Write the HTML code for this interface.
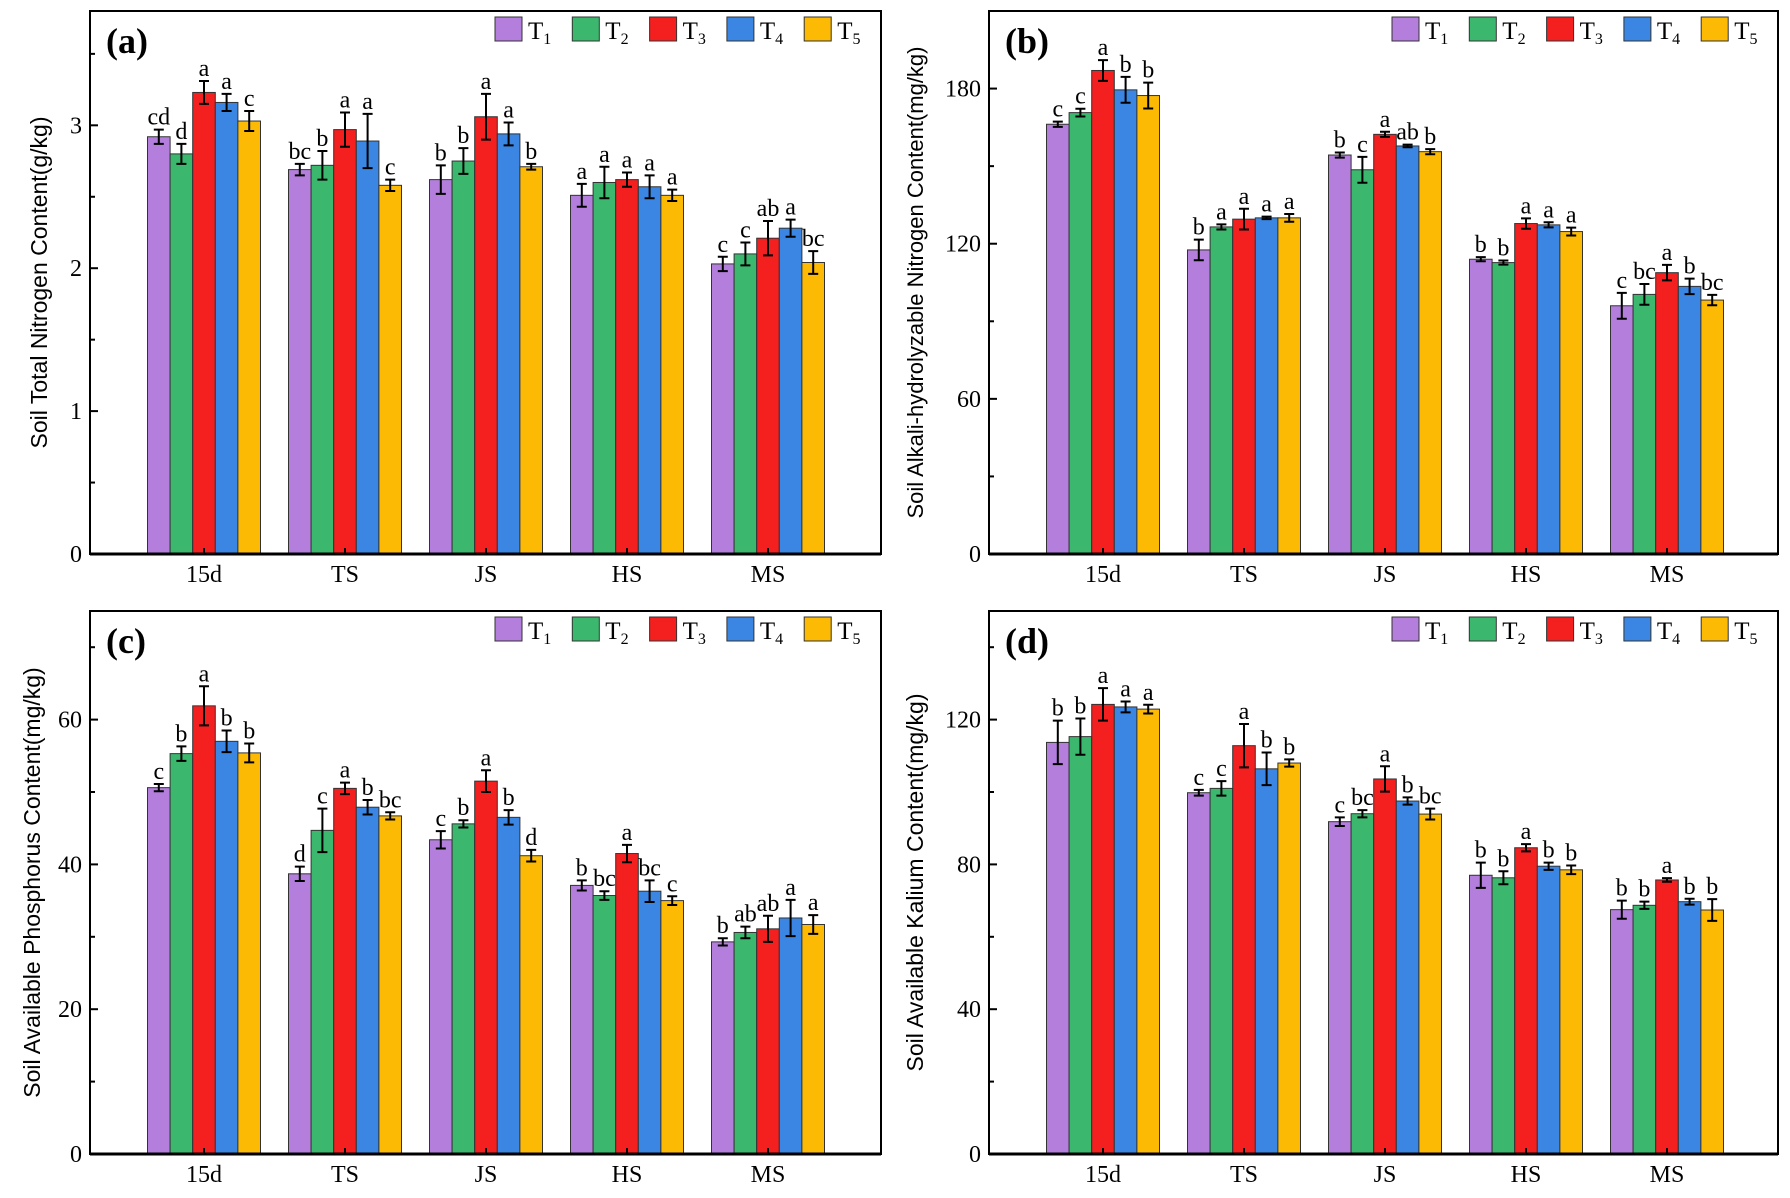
<!DOCTYPE html>
<html><head><meta charset="utf-8"><style>
html,body{margin:0;padding:0;background:#fff;}
svg{display:block;}
</style></head><body>
<svg id="fig" width="1790" height="1198" viewBox="0 0 1790 1198" xmlns="http://www.w3.org/2000/svg"></svg>
<script>
const categories = ["15d","TS","JS","HS","MS"];
const seriesNames = ["1","2","3","4","5"];
const colors = ["#b47fdc","#3cb86e","#f41f1f","#3a86e2","#fcba05"];

const aValues = [[2.92,2.69,2.62,2.51,2.03],[2.80,2.72,2.75,2.60,2.10],[3.23,2.97,3.06,2.62,2.21],[3.16,2.89,2.94,2.57,2.28],[3.03,2.58,2.71,2.51,2.04]];
const aErrors = [[0.05,0.04,0.10,0.08,0.05],[0.07,0.10,0.09,0.11,0.08],[0.08,0.12,0.16,0.05,0.12],[0.06,0.19,0.08,0.08,0.06],[0.07,0.04,0.02,0.04,0.08]];
const aLetters = [["cd","bc","b","a","c"],["d","b","b","a","c"],["a","a","a","a","ab"],["a","a","a","a","a"],["c","c","b","a","bc"]];
const aTicks = [0,1,2,3];

const bValues = [[166.2,117.6,154.3,114.0,96.0],[170.7,126.5,148.6,112.7,100.4],[187.0,129.5,162.3,127.8,108.8],[179.5,130.0,157.8,127.3,103.5],[177.3,130.0,155.6,124.7,98.2]];
const bErrors = [[1,4,1,0.8,5],[1.5,1,5,0.8,4],[4,4,1,2,3],[5,0.5,0.5,1,3],[5,1.5,1,1.5,2]];
const bLetters = [["c","b","b","b","c"],["c","a","c","b","bc"],["a","a","a","a","a"],["b","a","ab","a","b"],["b","a","b","a","bc"]];
const bTicks = [0,60,120,180];

const cValues = [[50.6,38.7,43.4,37.1,29.3],[55.3,44.7,45.6,35.7,30.6],[61.9,50.5,51.5,41.5,31.1],[57.0,47.9,46.5,36.3,32.6],[55.4,46.7,41.2,35.0,31.7]];
const cErrors = [[0.5,1.0,1.2,0.7,0.5],[1.0,3.0,0.5,0.6,0.8],[2.7,0.8,1.5,1.2,1.8],[1.5,1.0,1.0,1.5,2.5],[1.3,0.5,0.8,0.6,1.3]];
const cLetters = [["c","d","c","b","b"],["b","c","b","bc","ab"],["a","a","a","a","ab"],["b","b","b","bc","a"],["b","bc","d","c","a"]];
const cTicks = [0,20,40,60];

const dValues = [[113.7,99.8,91.8,77.0,67.5],[115.3,101.0,94.0,76.3,68.7],[124.2,112.8,103.6,84.6,75.7],[123.5,106.4,97.5,79.5,69.7],[122.9,108.0,93.9,78.5,67.4]];
const dErrors = [[6,0.8,1.2,3.5,2.5],[5,2,1,1.8,1],[4.5,6,3.5,1,0.5],[1.5,4.5,1,1,0.8],[1.2,1,1.5,1.2,3]];
const dLetters = [["b","c","c","b","b"],["b","c","bc","b","b"],["a","a","a","a","a"],["a","b","b","b","b"],["a","b","bc","b","b"]];
const dTicks = [0,40,80,120];

const NS = "http://www.w3.org/2000/svg";
const svg = document.getElementById("fig");
function mk(tag, attrs, parent){
  const e = document.createElementNS(NS, tag);
  for (const k in attrs) e.setAttribute(k, attrs[k]);
  (parent||svg).appendChild(e);
  return e;
}
const SERIF = '"Liberation Serif", serif';
const SANS = '"Liberation Sans", sans-serif';

function panel(p){
  const g = mk("g", {});
  
  
  const L=p.L,R=p.R,T=p.T,B=p.B;
  const ys = v => B - v/p.ymax*(B-T);
  const step = 141, off = 114, bw = 22.6;
  const xc = i => L + off + i*step;
  for (let s=0;s<5;s++){
    for (let i=0;i<5;i++){
      const v = p.values[s][i], e = p.errors[s][i];
      const x = xc(i) - 2.5*bw + s*bw;
      const r = mk("rect",{x:x,y:ys(v),width:bw,height:B-ys(v),fill:colors[s],stroke:"#333",["stroke-width"]:1},g);
      
      
      const cx = x + bw/2;
      const eb = mk("path",{d:`M${cx},${ys(v+e)}V${ys(v-e)}M${cx-5},${ys(v+e)}H${cx+5}M${cx-5},${ys(v-e)}H${cx+5}`,stroke:"#000",["stroke-width"]:2,fill:"none"},g);
      
      
      const t = mk("text",{x:cx,y:ys(v+e)-5,"text-anchor":"middle","font-family":SERIF,"font-size":24,fill:"#000"},g);
      t.textContent = p.letters[s][i];
      
      
    }
  }
  const fr = mk("rect",{x:L,y:T,width:R-L,height:B-T,fill:"none",stroke:"#000","stroke-width":2},g);
  
  
  mk("line",{x1:L,y1:B,x2:R,y2:B,stroke:"#000","stroke-width":3},g);
  const majStep = p.ticks[1]-p.ticks[0];
  for (let v=0; v<=p.ymax+1e-9; v+=majStep/p.minor){
    const isMaj = Math.abs(Math.round(v/majStep)*majStep - v) < 1e-6;
    mk("line",{x1:L,y1:ys(v),x2:L+(isMaj?8:5),y2:ys(v),stroke:"#000","stroke-width":2},g);
  }
  p.ticks.forEach(v=>{
    const t = mk("text",{x:L-8,y:ys(v)+8,"text-anchor":"end","font-family":SERIF,"font-size":24,fill:"#000"},g);
    t.textContent = v;
    
    
  });
  categories.forEach((c,i)=>{
    mk("line",{x1:xc(i),y1:B,x2:xc(i),y2:B-6,stroke:"#000","stroke-width":2},g);
    const t = mk("text",{x:xc(i),y:B+28,"text-anchor":"middle","font-family":SERIF,"font-size":24,fill:"#000"},g);
    t.textContent = c;
    
    
  });
  const cy = (T+B)/2;
  const yt = mk("text",{x:p.labelX,y:cy,"text-anchor":"middle","font-family":SANS,"font-size":p.labelSize,fill:"#000",transform:`rotate(-90 ${p.labelX} ${cy})`},g);
  yt.textContent = p.label;
  
  
  const pl = mk("text",{x:L+16,y:T+42,"font-family":SERIF,"font-size":36,"font-weight":"bold",fill:"#000"},g);
  pl.textContent = "(" + p.id + ")";
  
  
  for (let s=0;s<5;s++){
    const lx = R - 386 + s*77.3;
    const le = mk("g",{},g);
    
    
    mk("rect",{x:lx,y:T+6,width:27,height:24,fill:colors[s],stroke:"#333","stroke-width":1},le);
    const t = mk("text",{x:lx+33,y:T+28,"font-family":SERIF,"font-size":25,fill:"#000"},le);
    t.textContent = "T";
    const sub = mk("tspan",{"font-size":16,dy:5},t);
    sub.textContent = seriesNames[s];
  }
}

panel({id:"a",L:90,R:881,T:11,B:554,ymax:3.8,ticks:aTicks,minor:2,values:aValues,errors:aErrors,letters:aLetters,label:"Soil Total Nitrogen Content(g/kg)",labelX:47,labelSize:23});
panel({id:"b",L:989,R:1778,T:11,B:554,ymax:210,ticks:bTicks,minor:2,values:bValues,errors:bErrors,letters:bLetters,label:"Soil Alkali-hydrolyzable Nitrogen Content(mg/kg)",labelX:923,labelSize:22});
panel({id:"c",L:90,R:881,T:611,B:1154,ymax:75,ticks:cTicks,minor:2,values:cValues,errors:cErrors,letters:cLetters,label:"Soil Available Phosphorus Content(mg/kg)",labelX:40,labelSize:23});
panel({id:"d",L:989,R:1778,T:611,B:1154,ymax:150,ticks:dTicks,minor:2,values:dValues,errors:dErrors,letters:dLetters,label:"Soil Available Kalium Content(mg/kg)",labelX:923,labelSize:23});
</script>
</body></html>
